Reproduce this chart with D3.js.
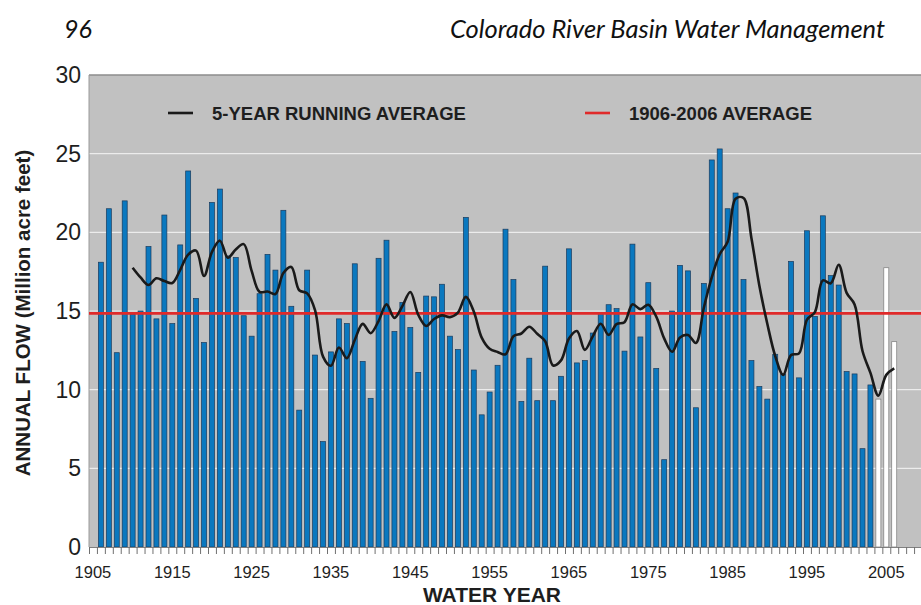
<!DOCTYPE html>
<html>
<head>
<meta charset="utf-8">
<script src="https://cdn.jsdelivr.net/npm/d3@7"></script>
<style>
  body { margin: 0; background: #fff; }
  svg { display: block; }
  .tick-label { font-family: "Liberation Sans", Arial, sans-serif; fill: #1e1e1e; }
  .bold { font-family: "Liberation Sans", Arial, sans-serif; font-weight: bold; fill: #1e1e1e; }
  .header { font-family: Lato, "Open Sans", sans-serif; font-style: italic; fill: #111; }
</style>
</head>
<body>
<svg id="chart"></svg>
<script>
//begin: data
var firstYear = 1906;
// annual flow, million acre feet, 1906..2006
var annualFlow = [
  18.1, 21.5, 12.35, 22.0, 14.8, 15.0, 19.1, 14.5, 21.1, 14.2,
  19.2, 23.9, 15.8, 13.0, 21.9, 22.75, 18.5, 18.4, 14.7, 13.4,
  16.1, 18.6, 17.6, 21.4, 15.3, 8.7, 17.6, 12.2, 6.7, 12.4,
  14.5, 14.2, 18.0, 11.8, 9.45, 18.35, 19.5, 13.7, 15.55, 13.95,
  11.1, 15.95, 15.9, 16.7, 13.4, 12.55, 20.95, 11.25, 8.4, 9.85,
  11.55, 20.2, 17.0, 9.25, 12.0, 9.3, 17.85, 9.3, 10.85, 18.95,
  11.7, 11.85, 13.6, 14.85, 15.4, 15.15, 12.45, 19.25, 13.35, 16.8,
  11.35, 5.55, 15.0, 17.9, 17.55, 8.85, 16.75, 24.6, 25.3, 21.5,
  22.5, 17.0, 11.85, 10.2, 9.4, 12.25, 11.0, 18.15, 10.75, 20.1,
  14.65, 21.05, 17.25, 16.65, 11.15, 11.0, 6.25, 10.3, 9.4, 17.75,
  13.05
];
// years drawn as open (white) bars
var provisionalYears = [2004, 2005, 2006];

// 5-year running average, 1910..2006
var avgFirstYear = 1910;
var runningAvg = [
  17.75, 17.13, 16.65, 17.08, 16.9, 16.78, 17.62, 18.58, 18.84, 17.22,
  18.76, 19.47, 18.39, 18.91, 19.25, 17.55, 16.22, 16.24, 16.08, 17.42,
  17.8, 16.32, 16.12, 15.04, 12.1, 11.52, 12.68, 12.0, 13.16, 14.18,
  13.59, 14.36, 15.42, 14.56, 15.31, 16.21, 14.76, 14.05, 14.49, 14.72,
  14.61, 14.9, 15.9, 14.97, 13.31, 12.6, 12.4, 12.25, 13.4, 13.57,
  14.0, 13.55, 13.08, 11.54, 11.86, 13.25, 13.73, 12.53, 13.39, 14.19,
  13.48, 14.17, 14.29, 15.42, 15.12, 15.4, 14.64, 13.26, 12.41, 13.32,
  13.47, 12.97, 15.21, 17.13, 18.61, 19.4, 22.13, 22.18, 19.63, 16.61,
  14.19, 12.14, 10.94, 12.2, 12.31, 14.45, 14.93, 16.94, 16.76, 17.94,
  16.15, 15.42, 12.46, 11.07, 9.62, 10.94, 11.35
];

var longTermAvg = 14.85; // 1906-2006 average

var yTicks = [0, 5, 10, 15, 20, 25, 30];
var xTickLabels = [1905, 1915, 1925, 1935, 1945, 1955, 1965, 1975, 1985, 1995, 2005];
//end: data

//begin: layout conf.
var svgWidth = 921,
    svgHeight = 605,
    plotLeft = 89,
    plotRight = 922,
    plotTop = 75,
    plotBottom = 547;
//end: layout conf.

var svg = d3.select("#chart")
    .attr("width", svgWidth)
    .attr("height", svgHeight);

var x = d3.scaleLinear().domain([1904.5, 2009.5]).range([plotLeft, plotRight]);
var y = d3.scaleLinear().domain([0, 30]).range([plotBottom, plotTop]);

var flowData = annualFlow.map(function(v, i){ return {year: firstYear + i, value: v}; });
var avgData = runningAvg.map(function(v, i){ return {year: avgFirstYear + i, value: v}; });

// header
svg.append("text")
    .attr("class", "header")
    .attr("x", 64).attr("y", 38)
    .style("font-size", "25px")
    .text("96");
svg.append("text")
    .attr("class", "header")
    .attr("x", 885).attr("y", 38)
    .attr("text-anchor", "end")
    .style("font-size", "25.5px")
    .text("Colorado River Basin Water Management");

// plot background
svg.append("rect")
    .attr("x", plotLeft).attr("y", plotTop)
    .attr("width", plotRight - plotLeft).attr("height", plotBottom - plotTop)
    .style("fill", "#c1c1c1");

// gridlines
svg.append("g").selectAll("line")
    .data(yTicks.filter(function(d){ return d > 0 && d < 30; }))
    .enter().append("line")
      .attr("x1", plotLeft).attr("x2", plotRight)
      .attr("y1", function(d){ return y(d); }).attr("y2", function(d){ return y(d); })
      .style("stroke", "#ececec").style("stroke-width", 1.2);

// frame top / left
svg.append("line")
    .attr("x1", plotLeft).attr("x2", plotRight)
    .attr("y1", plotTop).attr("y2", plotTop)
    .style("stroke", "#8c8c8c").style("stroke-width", 1.5);
svg.append("line")
    .attr("x1", plotLeft).attr("x2", plotLeft)
    .attr("y1", plotTop).attr("y2", plotBottom)
    .style("stroke", "#9a9a9a").style("stroke-width", 1);

// bars
var barWidth = 5;
svg.append("g").selectAll("rect")
    .data(flowData)
    .enter().append("rect")
      .attr("x", function(d){ return x(d.year) - barWidth/2; })
      .attr("y", function(d){ return y(d.value); })
      .attr("width", barWidth)
      .attr("height", function(d){ return y(0) - y(d.value); })
      .style("fill", function(d){ return provisionalYears.indexOf(d.year) >= 0 ? "#ffffff" : "#0a78bf"; })
      .style("stroke", function(d){ return provisionalYears.indexOf(d.year) >= 0 ? "#7a7a7a" : "#1b3b5c"; })
      .style("stroke-width", 0.7);

// 1906-2006 average
svg.append("line")
    .attr("x1", plotLeft).attr("x2", plotRight)
    .attr("y1", y(longTermAvg)).attr("y2", y(longTermAvg))
    .style("stroke", "#e02a2a").style("stroke-width", 2.6);

// running average line
var line = d3.line()
    .x(function(d){ return x(d.year); })
    .y(function(d){ return y(d.value); })
    .curve(d3.curveCatmullRom.alpha(0.5));
svg.append("path")
    .datum(avgData)
    .attr("d", line)
    .style("fill", "none")
    .style("stroke", "#1a1a1a")
    .style("stroke-width", 2.6)
    .style("stroke-linejoin", "round");

// x axis: baseline + one tick per year boundary
var xAxis = d3.axisBottom(x)
    .tickValues(d3.range(1904.5, 2010, 1))
    .tickSize(7)
    .tickFormat("");
var xAxisG = svg.append("g")
    .attr("transform", "translate(0," + plotBottom + ")")
    .call(xAxis);
xAxisG.select(".domain").style("stroke", "#808080");
xAxisG.selectAll(".tick line").style("stroke", "#707070");

svg.append("g").selectAll("text")
    .data(xTickLabels)
    .enter().append("text")
      .attr("class", "tick-label")
      .attr("x", function(d){ return x(d); })
      .attr("y", 578)
      .attr("text-anchor", "middle")
      .style("font-size", "16.5px")
      .text(function(d){ return d; });

// y axis labels
svg.append("g").selectAll("text")
    .data(yTicks)
    .enter().append("text")
      .attr("class", "tick-label")
      .attr("x", 81)
      .attr("y", function(d){ return y(d) + 8; })
      .attr("text-anchor", "end")
      .style("font-size", "23px")
      .text(function(d){ return d; });

// axis titles
svg.append("text")
    .attr("class", "bold")
    .attr("x", 492).attr("y", 602)
    .attr("text-anchor", "middle")
    .style("font-size", "21px")
    .text("WATER YEAR");
svg.append("text")
    .attr("class", "bold")
    .attr("transform", "translate(" + [30, 313] + ") rotate(-90)")
    .attr("text-anchor", "middle")
    .style("font-size", "20.5px")
    .text("ANNUAL FLOW (Million acre feet)");

// legend
var legend = [
  {label: "5-YEAR RUNNING AVERAGE", color: "#1a1a1a", x: 168},
  {label: "1906-2006 AVERAGE", color: "#e02a2a", x: 585}
];
var lg = svg.append("g").selectAll("g")
    .data(legend)
    .enter().append("g")
      .attr("transform", function(d){ return "translate(" + [d.x, 113] + ")"; });
lg.append("line")
    .attr("x1", 0).attr("x2", 25)
    .style("stroke", function(d){ return d.color; })
    .style("stroke-width", 2.6);
lg.append("text")
    .attr("class", "bold")
    .attr("x", 44).attr("y", 6.5)
    .style("font-size", "18.5px")
    .text(function(d){ return d.label; });
</script>
</body>
</html>
